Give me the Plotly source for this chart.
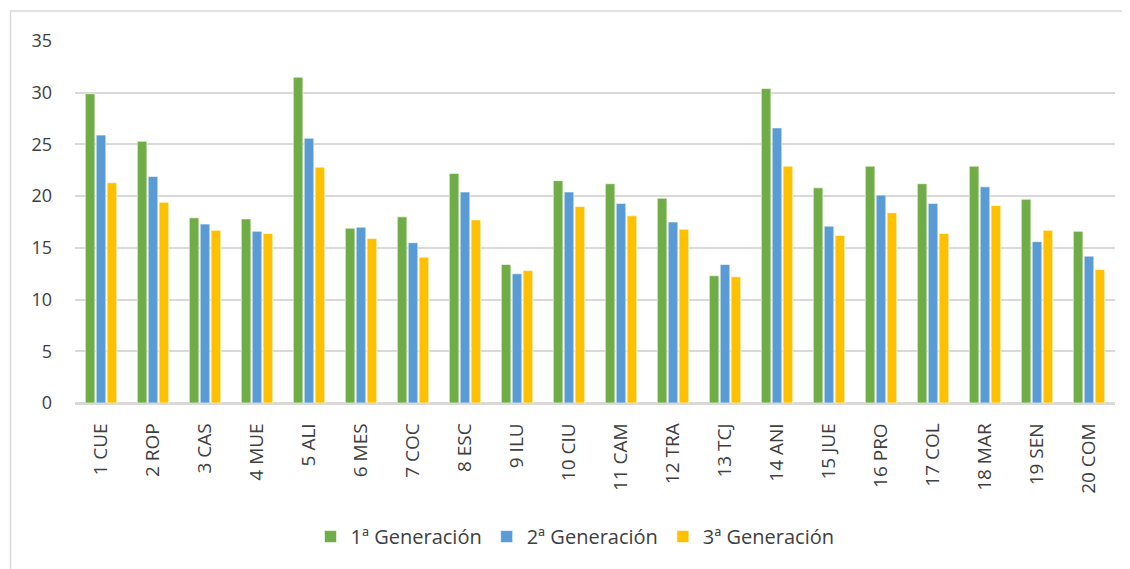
import plotly.graph_objects as go

categories = ["1 CUE", "2 ROP", "3 CAS", "4 MUE", "5 ALI", "6 MES", "7 COC", "8 ESC", "9 ILU", "10 CIU",
              "11 CAM", "12 TRA", "13 TCJ", "14 ANI", "15 JUE", "16 PRO", "17 COL", "18 MAR", "19 SEN", "20 COM"]
gen1 = [29.9, 25.3, 17.9, 17.8, 31.5, 16.9, 18.0, 22.2, 13.4, 21.5,
        21.2, 19.8, 12.3, 30.4, 20.8, 22.9, 21.2, 22.9, 19.7, 16.6]
gen2 = [25.9, 21.9, 17.3, 16.6, 25.6, 17.0, 15.5, 20.4, 12.5, 20.4,
        19.3, 17.5, 13.4, 26.6, 17.1, 20.1, 19.3, 20.9, 15.6, 14.2]
gen3 = [21.3, 19.4, 16.7, 16.4, 22.8, 15.9, 14.1, 17.7, 12.8, 19.0,
        18.1, 16.8, 12.2, 22.9, 16.2, 18.4, 16.4, 19.1, 16.7, 12.9]
series_names = ["1ª Generación", "2ª Generación", "3ª Generación"]
y_ticks = [0, 5, 10, 15, 20, 25, 30, 35]

colors = ["#70AD47", "#5B9BD5", "#FFC000"]

fig = go.Figure()
for name, vals, col in zip(series_names, [gen1, gen2, gen3], colors):
    fig.add_trace(go.Bar(x=categories, y=vals, name=name,
                         marker=dict(color=col, line=dict(color="white", width=0.6))))

# page body has an 8px margin; compensate so the plot lands at the reference position
OFF = 8
W, H = 1130, 569
ml, mt = 75 - OFF, 41 - OFF
pr, pb = 1115 - OFF, 403.3 - OFF
mr = W - pr
mb = H - pb
pw = pr - ml
ph = pb - mt

def px_x(p):
    return (p - OFF - ml) / pw

def px_y(p):
    return (pb - (p - OFF)) / ph

fig.update_layout(
    width=W, height=H,
    margin=dict(l=ml, r=mr, t=mt, b=mb),
    paper_bgcolor="white", plot_bgcolor="white",
    barmode="group", bargap=0.37, bargroupgap=0.12,
    font=dict(family="Open Sans", size=17, color="#404040"),
    showlegend=True,
    legend=dict(orientation="h", x=px_x(575), xanchor="center", y=px_y(537), yanchor="middle",
                font=dict(family="Open Sans", size=20, color="#404040"),
                itemwidth=30, bgcolor="rgba(0,0,0,0)"),
    xaxis=dict(tickangle=-90, showgrid=False, showline=True, linecolor="#D9D9D9", linewidth=1.5,
               ticks="", ticklabelstandoff=11, tickfont=dict(size=19)),
    yaxis=dict(range=[0, 35], tickvals=y_ticks, showgrid=True, gridcolor="#D9D9D9", gridwidth=1.5,
               zeroline=True, zerolinecolor="#D9D9D9", zerolinewidth=1.5, showline=False,
               ticks="", ticklabelstandoff=22, tickfont=dict(size=18)),
    shapes=[
        dict(type="line", xref="paper", yref="paper", x0=px_x(10), x1=px_x(1145), y0=px_y(11), y1=px_y(11),
             line=dict(color="#D9D9D9", width=1.5)),
        dict(type="line", xref="paper", yref="paper", x0=px_x(10.5), x1=px_x(10.5), y0=px_y(11), y1=px_y(590),
             line=dict(color="#D9D9D9", width=1.5)),
    ],
)

fig.write_html("out.html")
